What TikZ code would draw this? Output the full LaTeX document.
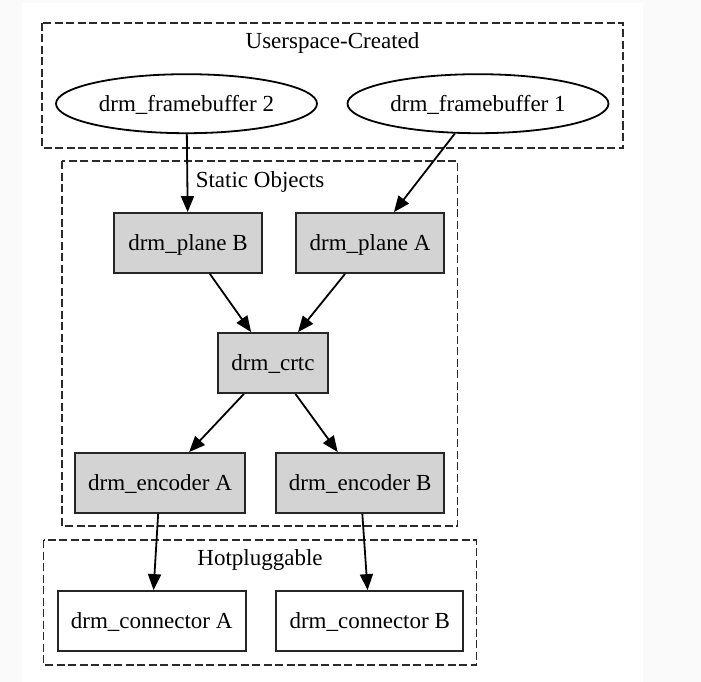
\documentclass[tikz,border=0pt]{standalone}
\usepackage{fontspec}
\setmainfont{Liberation Serif}
\usetikzlibrary{arrows.meta}
\usetikzlibrary{shapes.geometric}
\definecolor{pagegray}{HTML}{FAFAFA}
\definecolor{boxgray}{HTML}{D3D3D3}
\definecolor{clustline}{HTML}{2A2A2A}
\tikzset{
  cluster/.style={draw=clustline, line width=1.8pt, dash pattern=on 8pt off 3.5pt},
  clusterlabel/.style={inner sep=0pt, font=\fontsize{23}{27}\selectfont},
  ellnode/.style={draw, ellipse, line width=1.8pt, minimum width=261pt, minimum height=59pt, inner sep=0pt, text depth=-2pt, font=\fontsize{23}{27}\selectfont},
  graybox/.style={draw=black!85, fill=boxgray, line width=1.8pt, rectangle, minimum height=60pt, inner sep=0pt, text depth=-2pt, font=\fontsize{23}{27}\selectfont},
  whitebox/.style={draw=black!85, fill=white, line width=1.8pt, rectangle, minimum height=60pt, inner sep=0pt, text depth=-2pt, font=\fontsize{23}{27}\selectfont},
  edge/.style={line width=1.8pt, -{Triangle[length=16pt, width=13pt]}},
}
\begin{document}
\begin{tikzpicture}[x=1pt, y=-1pt]
\useasboundingbox (0,0) rectangle (701,682);
\fill[pagegray] (0,0) rectangle (701,682);
\fill[white] (22,3) rectangle (643,682);
% clusters
\draw[cluster] (42,23) rectangle (623,148);
\node[clusterlabel] (lblU) at (332.5,42.5) {Userspace-Created};
\draw[cluster] (62,161) rectangle (457.5,526);
\node[clusterlabel] (lblS) at (260,181.5) {Static Objects};
\draw[cluster] (43.5,540) rectangle (476.5,665);
\node[clusterlabel] (lblH) at (260,559.5) {Hotpluggable};
% nodes
\node[ellnode] (fb2) at (186.5,103.7) {drm\_framebuffer 2};
\node[ellnode] (fb1) at (478,103.7) {drm\_framebuffer 1};
\node[graybox, minimum width=148pt] (planeB) at (188,243) {drm\_plane B};
\node[graybox, minimum width=148.5pt] (planeA) at (370,243) {drm\_plane A};
\node[graybox, minimum width=110.5pt] (crtc) at (273,363) {drm\_crtc};
\node[graybox, minimum width=170pt] (encA) at (160,483) {drm\_encoder A};
\node[graybox, minimum width=168pt] (encB) at (360.2,483) {drm\_encoder B};
\node[whitebox, minimum width=188pt] (connA) at (151.7,621) {drm\_connector A};
\node[whitebox, minimum width=187.3pt] (connB) at (369.7,621) {drm\_connector B};
% edges
\draw[edge] (fb2) -- (planeB);
\draw[edge] (fb1) -- (planeA);
\draw[edge] (planeB) -- (crtc);
\draw[edge] (planeA) -- (crtc);
\draw[edge] (crtc) -- (encA);
\draw[edge] (crtc) -- (encB);
\draw[edge] (encA) -- (connA);
\draw[edge] (encB) -- (connB);
\end{tikzpicture}
\end{document}
